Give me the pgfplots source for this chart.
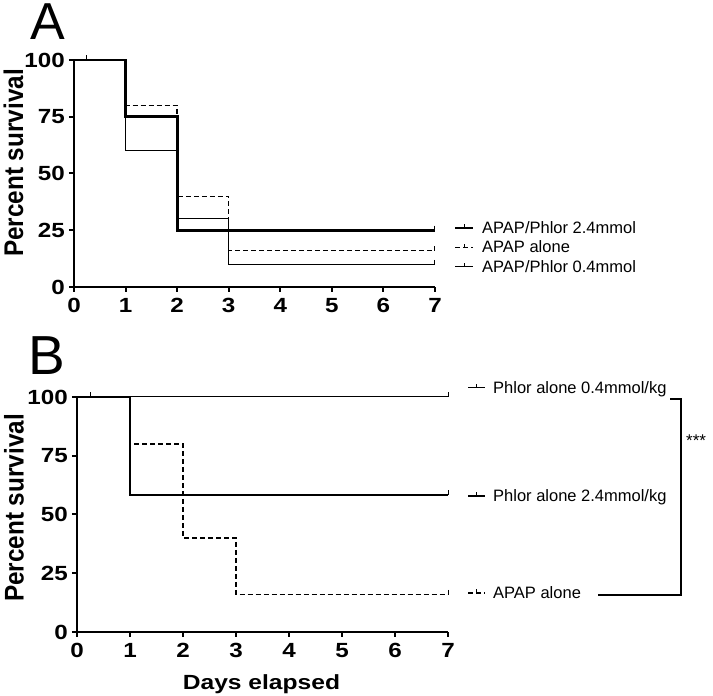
\documentclass[border=0pt]{standalone}
\usepackage{fontspec}
\setmainfont{Liberation Sans}
\newfontfamily\tickfont[FakeStretch=1.18]{Liberation Sans}
\newfontfamily\ylabfont[FakeStretch=0.9]{Liberation Sans}
\newfontfamily\xlabfont[FakeStretch=1.2]{Liberation Sans}
\usepackage{pgfplots}
\pgfplotsset{compat=1.18}
\pgfplotsset{
  surv/.style={
    scale only axis, xmin=0, xmax=7, ymin=0, ymax=100,
    axis x line=bottom, axis y line=left,
    axis line style={-, line width=2.6pt},
    xtick={0,1,...,7}, ytick={0,25,50,75,100},
    tick align=outside, major tick length=5pt,
    tick style={black, line width=2pt},
    /pgf/number format/assume math mode=true,
    ticklabel style={font=\tickfont\bfseries\fontsize{20.5}{22}\selectfont, inner sep=2pt},
    xticklabel style={yshift=-4pt},
    yticklabel style={xshift=-2pt},
    clip=false,
  },
  thickS/.style={const plot, line width=2.8pt, black, no marks},
  thinS/.style={const plot, line width=1pt, black, no marks},
  dashS/.style={const plot, line width=1.3pt, black, dash pattern=on 5pt off 3pt, no marks},
  cens/.style={only marks, mark=|, mark size=2.5pt, black, mark options={line width=1pt, solid, yshift=2pt}},
}
\begin{document}
\begin{tikzpicture}[x=1pt,y=1pt]
\useasboundingbox (0,0) rectangle (713,696);
% Panel A
\begin{axis}[surv, at={(74pt,409pt)}, anchor=south west, width=361pt, height=227pt]
\addplot[dashS] coordinates {(0,100) (1,80) (2,40) (3,16) (7,16)};
\addplot[thinS] coordinates {(0,100) (1,60) (2,30) (3,10) (7,10)};
\addplot[thickS] coordinates {(0,100) (1,75) (2,25) (7,25)};
\addplot[cens] coordinates {(0.25,100) (7,25) (7,16) (7,10)};
\end{axis}
% Panel B
\begin{axis}[surv, at={(77pt,64pt)}, anchor=south west, width=371pt, height=235pt]
\addplot[dashS] coordinates {(0,100) (1,80) (2,40) (3,16) (7,16)};
\addplot[thinS] coordinates {(0,100) (7,100)};
\addplot[thickS] coordinates {(0,100) (1,58.33) (7,58.33)};
\addplot[cens] coordinates {(0.25,100) (7,100) (7,58.33) (7,16)};
\end{axis}
% panel letters
\node[anchor=base west, inner sep=0, font=\fontsize{52}{56}\selectfont] at (30,656) {A};
\node[anchor=base west, inner sep=0, font=\fontsize{55}{58}\selectfont] at (28,321) {B};
% axis labels
\node[rotate=90, inner sep=0, font=\ylabfont\bfseries\fontsize{27}{30}\selectfont] at (13.5,533) {Percent survival};
\node[rotate=90, inner sep=0, font=\ylabfont\bfseries\fontsize{27}{30}\selectfont] at (14,188) {Percent survival};
\node[anchor=base, inner sep=0, font=\xlabfont\bfseries\fontsize{20.5}{22}\selectfont] at (261.5,6) {Days elapsed};
% legend A
\begin{scope}[font=\fontsize{16.5}{18}\selectfont]
\draw[line width=2.8pt] (455,468) -- (473,468); \draw[line width=1pt] (464,468) -- (464,471.5);
\draw[line width=1.2pt, dash pattern=on 5pt off 3pt] (455,448.5) -- (473,448.5); \draw[line width=1pt] (464,448.5) -- (464,452);
\draw[line width=1pt] (455,429) -- (473,429); \draw[line width=1pt] (464,429) -- (464,433);
\node[anchor=base west, inner sep=0] at (482,462) {APAP/Phlor 2.4mmol};
\node[anchor=base west, inner sep=0] at (482,443) {APAP alone};
\node[anchor=base west, inner sep=0] at (482,423) {APAP/Phlor 0.4mmol};
% legend B
\draw[line width=1pt] (468,308) -- (485,308); \draw[line width=1pt] (476.5,308) -- (476.5,312);
\draw[line width=2.8pt] (468,200) -- (485,200); \draw[line width=1pt] (476.5,200) -- (476.5,203.5);
\draw[line width=1.2pt, dash pattern=on 5pt off 3pt] (468,103) -- (485,103); \draw[line width=1pt] (476.5,103) -- (476.5,107);
\node[anchor=base west, inner sep=0] at (493,302) {Phlor alone 0.4mmol/kg};
\node[anchor=base west, inner sep=0] at (493,194) {Phlor alone 2.4mmol/kg};
\node[anchor=base west, inner sep=0] at (493,97) {APAP alone};
\end{scope}
% bracket
\draw[line width=2pt] (670,297) -- (681,297) -- (681,101) -- (598,101);
\node[anchor=base west, inner sep=0, font=\fontsize{17}{18}\selectfont] at (686,249) {***};
\end{tikzpicture}
\end{document}
